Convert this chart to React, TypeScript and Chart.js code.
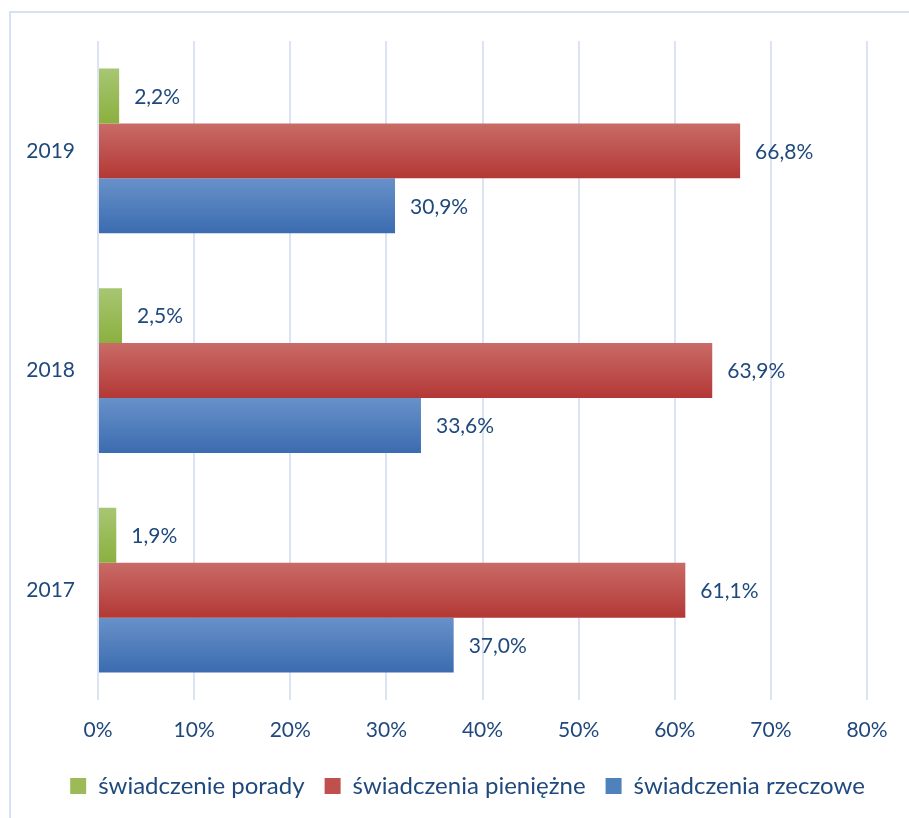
import React, { useEffect, useRef } from "react";
import { Chart, registerables } from "chart.js";

Chart.register(...registerables);

const categories = ["2019", "2018", "2017"];
const seriesNames = ["świadczenie porady", "świadczenia pieniężne", "świadczenia rzeczowe"];
const poradyValues = [2.2, 2.5, 1.9];
const pieniezneValues = [66.8, 63.9, 61.1];
const rzeczoweValues = [30.9, 33.6, 37.0];
const xMax = 80;
const xStep = 10;

const TEXT = "#1F497D";
const FONT = "Lato";
const gradStops = [
  ["#a8c673", "#8bb03f"],
  ["#c96b67", "#b33835"],
  ["#6891c9", "#3b6cb0"],
];
const solid = ["#9bbb59", "#c0504d", "#4f81bd"];

const gradientPlugin = {
  id: "barGradient",
  beforeDatasetsDraw(chart: any) {
    const ctx = chart.ctx;
    chart.data.datasets.forEach((_ds: any, di: number) => {
      const meta = chart.getDatasetMeta(di);
      meta.data.forEach((el: any) => {
        const top = el.y - el.height / 2;
        const bottom = el.y + el.height / 2;
        const g = ctx.createLinearGradient(0, top, 0, bottom);
        g.addColorStop(0, gradStops[di][0]);
        g.addColorStop(1, gradStops[di][1]);
        el.options.backgroundColor = g;
      });
    });
  },
};

const labelPlugin = {
  id: "valueLabels",
  afterDatasetsDraw(chart: any) {
    const ctx = chart.ctx;
    ctx.save();
    ctx.font = `21px ${FONT}`;
    ctx.fillStyle = TEXT;
    ctx.textAlign = "left";
    ctx.textBaseline = "middle";
    chart.data.datasets.forEach((ds: any, di: number) => {
      const meta = chart.getDatasetMeta(di);
      meta.data.forEach((el: any, i: number) => {
        const v = ds.data[i] as number;
        ctx.fillText(v.toFixed(1).replace(".", ",") + "%", el.x + 15, el.y + 1);
      });
    });
    ctx.restore();
  },
};

const legendShift = {
  id: "legendShift",
  beforeDraw(chart: any) {
    if (chart.legend) {
      chart.legend.left = 34;
      chart.legend.right = 901;
    }
  },
};

export default function App() {
  const ref = useRef<HTMLCanvasElement>(null);
  useEffect(() => {
    if (!ref.current) return;
    const chart = new Chart(ref.current, {
      type: "bar",
      data: {
        labels: categories,
        datasets: [
          { label: seriesNames[0], data: poradyValues, backgroundColor: () => solid[0] },
          { label: seriesNames[1], data: pieniezneValues, backgroundColor: () => solid[1] },
          { label: seriesNames[2], data: rzeczoweValues, backgroundColor: () => solid[2] },
        ],
      },
      options: {
        indexAxis: "y",
        responsive: false,
        animation: false,
        datasets: { bar: { categoryPercentage: 0.75, barPercentage: 1.0 } },
        layout: { padding: { left: 0, right: 42, top: 41, bottom: 10 } },
        scales: {
          x: {
            min: 0,
            max: xMax,
            ticks: {
              stepSize: xStep,
              padding: 18,
              color: TEXT,
              font: { family: FONT, size: 21 },
              callback: (v: any) => `${v}%`,
            },
            grid: { color: "#dae4f2", lineWidth: 2, drawTicks: false },
            border: { display: false },
            afterFit: (s: any) => { s.height = 54; },
          },
          y: {
            ticks: { padding: 23, color: TEXT, font: { family: FONT, size: 21 } },
            grid: { display: false, drawTicks: false },
            border: { display: false },
            afterFit: (s: any) => { s.width = 98; },
          },
        },
        plugins: {
          legend: {
            position: "bottom",
            labels: {
              boxWidth: 16,
              boxHeight: 16,
              padding: 20,
              color: TEXT,
              font: { family: FONT, size: 24, lineHeight: 1.0 },
              generateLabels: (c: any) =>
                c.data.datasets.map((ds: any, i: number) => ({
                  text: ds.label,
                  fillStyle: solid[i],
                  strokeStyle: solid[i],
                  lineWidth: 0,
                  fontColor: TEXT,
                  datasetIndex: i,
                  hidden: false,
                })),
            },
          },
          tooltip: { enabled: false },
        },
      },
      plugins: [gradientPlugin, labelPlugin, legendShift],
    });
    return () => chart.destroy();
  }, []);
  return (
    <div style={{ position: "absolute", left: 0, top: 0, width: 909, height: 818, background: "#fff", overflow: "hidden" }}>
      <div style={{ position: "absolute", left: 9, top: 11, width: 920, height: 830, borderLeft: "2px solid #d6e1f1", borderTop: "2px solid #d6e1f1" }} />
      <canvas ref={ref} width={909} height={818} style={{ position: "absolute", left: 0, top: 0 }} />
    </div>
  );
}
